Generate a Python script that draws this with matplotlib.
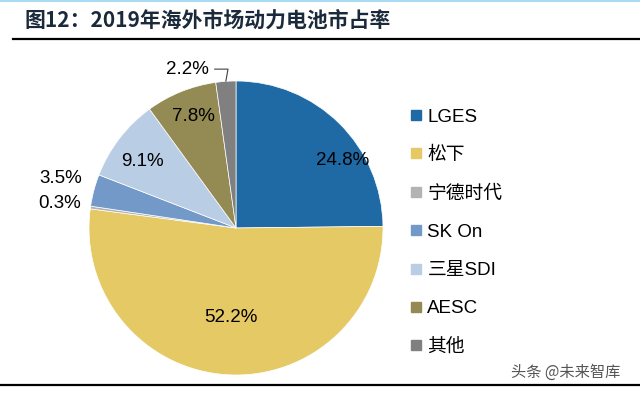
import numpy as np
import matplotlib
matplotlib.use("Agg")
import matplotlib.pyplot as plt
from matplotlib.lines import Line2D

plt.rcParams['font.family'] = ['Liberation Sans', 'Noto Sans CJK SC', 'DejaVu Sans']

# data
labels = ["LGES", "松下", "宁德时代", "SK On", "三星SDI", "AESC", "其他"]
shares = [24.8, 52.2, 0.3, 3.5, 9.1, 7.8, 2.2]
colors = ["#1F69A4", "#E5C965", "#B3B3B3", "#7399C8", "#B9CDE5", "#948A54", "#808080"]
title = "图12：2019年海外市场动力电池市占率"

fig = plt.figure(figsize=(6.4, 4.18), dpi=100)

# title and rules
fig.text(25 / 640, 1 - 20 / 418, title, fontsize=15, fontweight="bold",
         color="#1B2A3A", va="center", ha="left",
         family=["Noto Sans CJK SC", "DejaVu Sans"])
fig.add_artist(Line2D([0, 1], [1 - 1 / 418, 1 - 1 / 418], color="#A9DCF2", lw=1.5))
fig.add_artist(Line2D([13 / 640, 1], [1 - 39 / 418, 1 - 39 / 418], color="black", lw=1.6))
fig.add_artist(Line2D([0, 1], [1 - 385 / 418, 1 - 385 / 418], color="black", lw=1.6))
fig.text(620 / 640, 1 - 372 / 418, "头条 @未来智库", fontsize=11, color="#555555",
         ha="right", va="center", family=["Noto Sans CJK SC", "DejaVu Sans"])

# pie axes: centre (236, 228) px, radius 147 px
cx, cy, r = 236, 228, 147
ax = fig.add_axes([(cx - r) / 640, (418 - cy - r) / 418, 2 * r / 640, 2 * r / 418])
wedges, _ = ax.pie(shares, colors=colors, startangle=90, counterclock=False,
                   radius=1.0, wedgeprops=dict(linewidth=0.5, edgecolor="white"))
ax.set_xlim(-1, 1)
ax.set_ylim(-1, 1)
ax.set_aspect("equal")

# label distance and angular shift per slice
dist = [0.86, 0.61, 1.21, 1.24, 0.78, 0.81, 1.13]
shift = [-13, 0, 0, -1, 2, -1, 13]
for i, w in enumerate(wedges):
    ang = np.deg2rad((w.theta1 + w.theta2) / 2 + shift[i])
    x, y = dist[i] * np.cos(ang), dist[i] * np.sin(ang)
    txt = f"{shares[i]:.1f}%"
    if labels[i] == "其他":
        mid = np.deg2rad((w.theta1 + w.theta2) / 2)
        ax.annotate(txt, xy=(np.cos(mid), np.sin(mid)), xytext=(x, y),
                    fontsize=13.5, ha="center", va="center",
                    arrowprops=dict(arrowstyle="-", color="#404040", lw=0.8,
                                    connectionstyle="angle,angleA=0,angleB=80,rad=0",
                                    shrinkA=2, shrinkB=0),
                    annotation_clip=False)
    else:
        ax.text(x, y, txt, fontsize=13.5, ha="center", va="center", color="black")

# legend
handles = [plt.Line2D([], [], marker="s", color=c, linestyle="", markersize=7.5) for c in colors]
fig.legend(handles, labels, loc="upper left", bbox_to_anchor=(403 / 640, 1 - 101 / 418),
           frameon=False, fontsize=13.5, handlelength=0.6, handletextpad=0.3,
           labelspacing=1.13, borderaxespad=0)

fig.savefig("out.png", dpi=100)
